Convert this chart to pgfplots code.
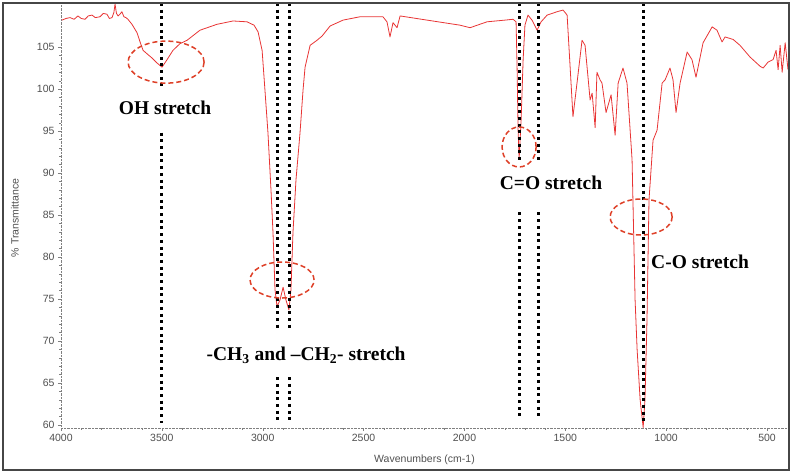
\documentclass[border=0pt]{standalone}
\usepackage{pgfplots}
\pgfplotsset{compat=1.18}
\usepackage{fontspec}
\setmainfont{Liberation Serif}
\newfontfamily\tickfont{Liberation Sans}

\definecolor{spec}{RGB}{232,52,52}
\definecolor{ring}{RGB}{222,64,40}
\definecolor{lbl}{RGB}{80,80,80}

\begin{document}
\begin{tikzpicture}
\begin{axis}[
    name=ax,
    scale only axis,
    width=727pt, height=425pt,
    x dir=reverse,
    xmin=396, xmax=4000,
    ymin=59.64, ymax=110.24,
    axis x line*=bottom,
    axis y line*=left,
    axis line style={gray, densely dotted},
    xtick={500,1000,...,4000},
    ytick={60,65,...,105},
    minor x tick num=4,
    minor y tick num=4,
    tick align=outside,
    major tick length=3pt,
    minor tick length=1.5pt,
    tick style={gray},
    /pgf/number format/1000 sep={},
    /pgf/number format/assume math mode=true,
    ticklabel style={font=\tickfont\fontsize{10.5}{12}\selectfont, text=lbl},
    xlabel={Wavenumbers (cm-1)},
    ylabel={\% Transmittance},
    label style={font=\tickfont\fontsize{10.5}{12}\selectfont, text=lbl},
    x label style={at={(axis description cs:0.5,-0.0753)}, anchor=center},
    y label style={at={(axis description cs:-0.0633,0.494)}, anchor=center},
    clip=true,
]
% FTIR spectrum
\addplot[spec, line width=0.8pt, line join=round] coordinates {
(3995,108.2) (3975,108.4) (3955,108.5) (3935,108.3) (3916,108.7) (3900,108.4)
(3881,108.3) (3865,108.7) (3846,108.8) (3830,108.5) (3807,108.6) (3790,109.0)
(3772,108.9) (3760,108.4) (3747,108.5) (3738,109.1) (3732,110.1) (3725,109.0)
(3717,108.7) (3708,108.9) (3698,109.2) (3688,108.6) (3678,108.5) (3668,108.3)
(3658,108.0) (3648,107.7) (3638,107.3) (3623,106.7) (3608,105.6) (3593,104.6)
(3569,104.1) (3549,103.7) (3524,103.1) (3499,102.6) (3474,103.5) (3445,104.6)
(3410,105.4) (3375,105.8) (3311,107.0) (3227,107.7) (3147,108.1) (3078,108.0)
(3043,107.6) (3023,106.8) (3003,104.6) (2989,99.9) (2974,94.8) (2959,88.0)
(2949,82.9) (2939,76.1) (2929,74.1) (2914,74.9) (2899,76.4) (2885,74.9)
(2870,73.7) (2860,76.1) (2850,82.9) (2835,89.2) (2815,94.8) (2800,99.9)
(2790,102.6) (2765,105.2) (2731,105.8) (2706,106.3) (2666,107.5) (2602,108.2)
(2518,108.6) (2404,108.6) (2384,108.0) (2369,106.2) (2354,107.9) (2334,107.3)
(2319,108.7) (2185,108.2) (2022,107.6) (1972,107.3) (1888,108.0) (1800,108.2)
(1759,108.3) (1744,108.0) (1739,102.6) (1734,95.1) (1729,91.6) (1719,96.3)
(1709,103.5) (1700,107.6) (1685,108.8) (1665,108.2) (1640,107.0) (1620,108.0)
(1590,108.8) (1541,109.2) (1511,109.4) (1491,108.8) (1476,102.6) (1462,96.7)
(1442,100.7) (1417,105.8) (1402,105.2) (1377,98.7) (1367,99.5) (1352,95.4)
(1343,102.0) (1328,101.1) (1318,100.7) (1298,97.2) (1273,99.3) (1253,94.5)
(1238,100.7) (1214,102.5) (1194,100.7) (1169,91.6) (1154,74.9) (1144,69.0)
(1129,63.0) (1114,59.7) (1105,63.0) (1095,72.5) (1085,86.8) (1065,93.9)
(1045,95.1) (1020,100.7) (1005,101.1) (981,102.5) (966,101.1) (951,97.2)
(931,100.7) (896,104.4) (872,103.5) (852,101.4) (817,105.5) (772,107.4)
(748,107.0) (723,105.6) (708,106.2) (668,105.9) (634,105.2) (584,103.8)
(534,102.7) (519,102.5) (495,103.2) (470,103.5) (455,104.6) (445,102.3)
(435,105.2) (425,102.0) (410,105.5) (396,102.3)
};

% dotted marker lines
\begin{scope}[black, line width=3pt, dash pattern=on 3pt off 3.7pt]
\draw (axis cs:3500,110.24) -- (axis cs:3500,100.0);
\draw (axis cs:3500,94.8) -- (axis cs:3500,60.2);
\draw (axis cs:2929,110.24) -- (axis cs:2929,71.3);
\draw (axis cs:2929,65.7) -- (axis cs:2929,60.2);
\draw (axis cs:2865,110.24) -- (axis cs:2865,71.3);
\draw (axis cs:2865,65.7) -- (axis cs:2865,60.2);
\draw (axis cs:1729,110.24) -- (axis cs:1729,91.2);
\draw (axis cs:1729,85.3) -- (axis cs:1729,60.8);
\draw (axis cs:1635,110.24) -- (axis cs:1635,91.2);
\draw (axis cs:1635,85.3) -- (axis cs:1635,60.8);
\draw (axis cs:1114,110.24) -- (axis cs:1114,60.3);
\end{scope}

% dashed rings
\begin{scope}[ring, line width=1.5pt, dash pattern=on 5pt off 3pt]
\draw (axis cs:3479,103.2) ellipse [x radius=38pt, y radius=21pt];
\draw (axis cs:2904,77.26) ellipse [x radius=32pt, y radius=18pt];
\draw (axis cs:1729,93.1) ellipse [x radius=17pt, y radius=20pt];
\draw (axis cs:1124,84.76) ellipse [x radius=31pt, y radius=18pt];
\end{scope}

% labels
\begin{scope}[font=\bfseries\fontsize{19.5}{22}\selectfont]
\node at (axis cs:3484,97.74) {OH stretch};
\node at (axis cs:2785,68.33) {-CH\textsubscript{3} and --CH\textsubscript{2}- stretch};
\node at (axis cs:1571,88.81) {C=O stretch};
\node at (axis cs:832,79.40) {C-O stretch};
\end{scope}
\end{axis}
\draw[line width=1.5pt, gray!55!black]
  ([shift={(-58pt,-42pt)}]ax.south west) rectangle ([shift={(1pt,0pt)}]ax.north east);
\useasboundingbox ([shift={(-61pt,-46pt)}]ax.south west) rectangle ([shift={(4pt,3pt)}]ax.north east);
\end{tikzpicture}
\end{document}
